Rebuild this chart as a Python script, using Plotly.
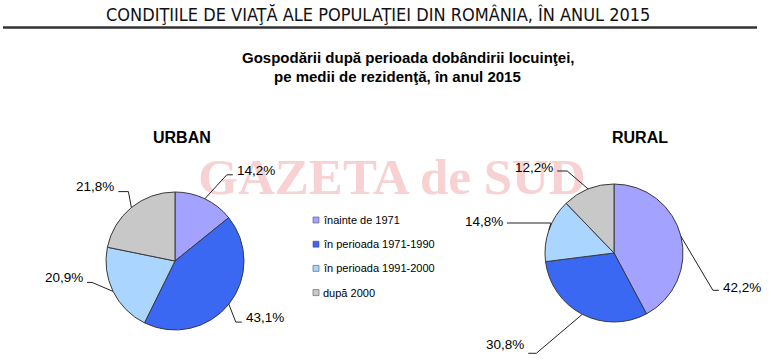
import math
import plotly.graph_objects as go

W, H = 771, 361

# ---------------- data ----------------
categories = ["înainte de 1971", "în perioada 1971-1990", "în perioada 1991-2000", "după 2000"]
urban_values = [14.2, 43.1, 20.9, 21.8]
rural_values = [42.2, 30.8, 14.8, 12.2]
pie_names = ["URBAN", "RURAL"]

header_text = "CONDIŢIILE DE VIAŢĂ ALE POPULAŢIEI DIN ROMÂNIA, ÎN ANUL 2015"
subtitle_1 = "Gospodării după perioada dobândirii locuinţei,"
subtitle_2 = "pe medii de rezidenţă, în anul 2015"
watermark_text = "GAZETA de SUD"

# ---------------- styling / layout ----------------
colors = ["#A3A3FF", "#3B68F2", "#A9D5FF", "#C8C8C8"]
FONT = "Liberation Sans, Arial, sans-serif"

# pie centres / radius (pixels)
pie_geom = [dict(cx=175, cy=261, r=69, title=(182, 137)),
            dict(cx=614, cy=253, r=69, title=(640, 137))]
# per-slice leader geometry: elbow offset (dx, dy) from edge point, horizontal length, text dy
leader_geom = [
    [(22, -24, 6, -4), (7, 18, 6, -5), (-21, -9, -5, -5), (-3, -16, -10, -5)],
    [(32, 54, 6, -3), (-46, 39, -8, -9), (2, -7, -44, -2), (-21, -18, -10, -4)],
]

fig = go.Figure()

# watermark (on hidden pixel axes, beneath the pies)
fig.add_trace(go.Scatter(
    x=[392], y=[181], mode="text", text=[watermark_text],
    textfont=dict(family="Liberation Serif, Times New Roman, serif", size=51, color="#F8D2D2", weight="bold"),
    hoverinfo="skip", showlegend=False))

shapes = []
annotations = []

for values, name, g, lg in zip([urban_values, rural_values], pie_names, pie_geom, leader_geom):
    cx, cy, r = g["cx"], g["cy"], g["r"]
    fig.add_trace(go.Pie(
        labels=categories, values=values, sort=False, direction="clockwise", rotation=0,
        marker=dict(colors=colors, line=dict(color="#3a3a3a", width=1)),
        textinfo="none", hoverinfo="label+percent", showlegend=False,
        domain=dict(x=[(cx - r) / W, (cx + r) / W], y=[1 - (cy + r) / H, 1 - (cy - r) / H]),
    ))
    annotations.append(dict(x=g["title"][0], y=g["title"][1], xref="x", yref="y", text="<b>%s</b>" % name,
                            showarrow=False, font=dict(family=FONT, size=16, color="#000")))
    total = sum(values)
    cum = 0.0
    for v, (dx, dy, hl, tdy) in zip(values, lg):
        theta = math.radians(360.0 * (cum + v / 2.0) / total)
        cum += v
        ex, ey = cx + r * math.sin(theta), cy - r * math.cos(theta)
        bx, by = ex + dx, ey + dy
        fx = bx + hl
        shapes.append(dict(type="path", xref="x", yref="y",
                           path="M%.1f,%.1f L%.1f,%.1f L%.1f,%.1f" % (ex, ey, bx, by, fx, by),
                           line=dict(color="#222", width=1)))
        annotations.append(dict(x=fx + (2 if hl > 0 else -2), y=by + tdy, xref="x", yref="y",
                                xanchor="left" if hl > 0 else "right", yanchor="middle",
                                text=("%.1f%%" % v).replace(".", ","), showarrow=False,
                                font=dict(family=FONT, size=13.5, color="#000")))

# legend (manual, compact like the original)
leg_x, leg_y0, leg_dy = 316, 220, 24.2
for i, (cat, col) in enumerate(zip(categories, colors)):
    yy = leg_y0 + i * leg_dy
    shapes.append(dict(type="rect", xref="x", yref="y", x0=leg_x - 3, x1=leg_x + 3, y0=yy - 3, y1=yy + 3,
                       fillcolor=col, line=dict(color="#555", width=0.6)))
    annotations.append(dict(x=leg_x + 5, y=yy, xref="x", yref="y", xanchor="left", yanchor="middle",
                            text=cat, showarrow=False, font=dict(family=FONT, size=11, color="#000")))

# header and title
annotations.append(dict(x=378, y=14, xref="x", yref="y", text=header_text, showarrow=False,
                        font=dict(family="Liberation Sans Narrow, Arial Narrow, DejaVu Sans Condensed, sans-serif",
                                  size=18, color="#111")))
shapes.append(dict(type="line", xref="x", yref="y", x0=3, x1=757, y0=27.5, y1=27.5,
                   line=dict(color="#333", width=2.5)))
annotations.append(dict(x=408, y=57, xref="x", yref="y", text="<b>%s</b>" % subtitle_1, showarrow=False,
                        font=dict(family=FONT, size=15, color="#000")))
annotations.append(dict(x=397, y=76, xref="x", yref="y", text="<b>%s</b>" % subtitle_2, showarrow=False,
                        font=dict(family=FONT, size=15, color="#000")))

fig.update_layout(
    width=W, height=H, margin=dict(l=0, r=0, t=0, b=0),
    paper_bgcolor="white", plot_bgcolor="white",
    xaxis=dict(range=[0, W], visible=False, domain=[0, 1], fixedrange=True),
    yaxis=dict(range=[H, 0], visible=False, domain=[0, 1], fixedrange=True),
    shapes=shapes, annotations=annotations, showlegend=False,
)

fig.write_html("out.html", config={"displayModeBar": False},
               post_script="document.body.style.margin='0';document.body.style.overflow='hidden';")
